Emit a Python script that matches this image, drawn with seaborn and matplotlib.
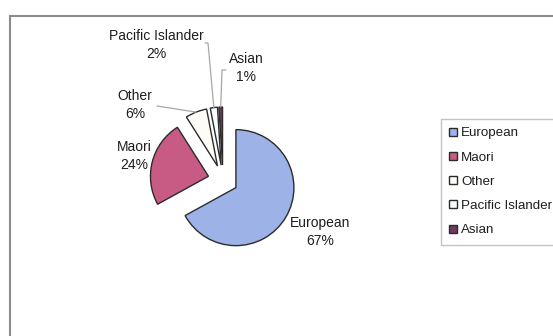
import matplotlib
matplotlib.use("Agg")
import matplotlib.pyplot as plt
from matplotlib.patches import Rectangle
import numpy as np
import seaborn as sns

# Ethnic composition (percent)
groups = ["European", "Maori", "Other", "Pacific Islander", "Asian"]
shares = [67, 24, 6, 2, 1]
colors = ["#9db3e8", "#c75b84", "#fdfdf6", "#f6fbfb", "#6e3a62"]

sns.set_style("white")
plt.rcParams["font.family"] = ["Liberation Sans", "DejaVu Sans"]

W, H = 553, 336
fig = plt.figure(figsize=(W / 100, H / 100), dpi=100)
ax = fig.add_axes([0, 0, 1, 1])

def fy(y):
    """Convert a top-down pixel row to the axes' bottom-up y."""
    return H - y

# Chart area border (runs off the right and bottom of the canvas)
ax.add_patch(Rectangle((10, -20), 700, fy(16) + 20, facecolor="none",
                       edgecolor="#8c8c8c", linewidth=1.5, zorder=1))

radius = 58
wedges, _ = ax.pie(
    shares,
    colors=colors,
    startangle=90,
    counterclock=False,
    explode=[15] * len(shares),
    center=(223, fy(180)),
    radius=radius,
    wedgeprops=dict(edgecolor="#2b2b2b", linewidth=1.0),
)

ax.set_xlim(0, W)
ax.set_ylim(0, H)
ax.set_aspect("equal")
ax.axis("off")

def arc_point(w):
    mid = np.deg2rad((w.theta1 + w.theta2) / 2)
    cx, cy = w.center
    return cx + w.r * np.cos(mid), cy + w.r * np.sin(mid)

# Data labels: category name and share
label_pos = {
    "European": (320, 232),
    "Maori": (134, 156),
    "Other": (135, 105),
    "Pacific Islander": (156, 45),
    "Asian": (246, 68),
}
for name, val in zip(groups, shares):
    x, y = label_pos[name]
    ax.text(x, fy(y), f"{name}\n{val}%", ha="center", va="center",
            fontsize=10, linespacing=1.45, color="#1e1e1e", zorder=5)

# Leader lines for the small slices
lead = dict(color="#a8a8a8", linewidth=0.9, zorder=4)
px, py = arc_point(wedges[3])
ax.plot([205, 208, px], [fy(43), fy(43), py], **lead)
ax_, ay = arc_point(wedges[4])
ax.plot([226, 222, ax_], [fy(70), fy(70), ay], **lead)
ox, oy = arc_point(wedges[2])
ax.plot([157, ox], [fy(106), oy], **lead)

leg = ax.legend(
    wedges, groups,
    loc="upper left",
    bbox_to_anchor=(441 / W, 1 - 119 / H),
    bbox_transform=fig.transFigure,
    borderaxespad=0,
    fontsize=9.6,
    frameon=True,
    fancybox=False,
    shadow=False,
    handlelength=0.55,
    handleheight=0.55,
    handletextpad=0.35,
    labelspacing=0.92,
    borderpad=0.62,
)
leg.get_frame().set_edgecolor("#b4b4b4")
leg.get_frame().set_linewidth(1.0)
for t in leg.get_texts():
    t.set_color("#1e1e1e")

fig.savefig("out.png", dpi=100, facecolor="white")
